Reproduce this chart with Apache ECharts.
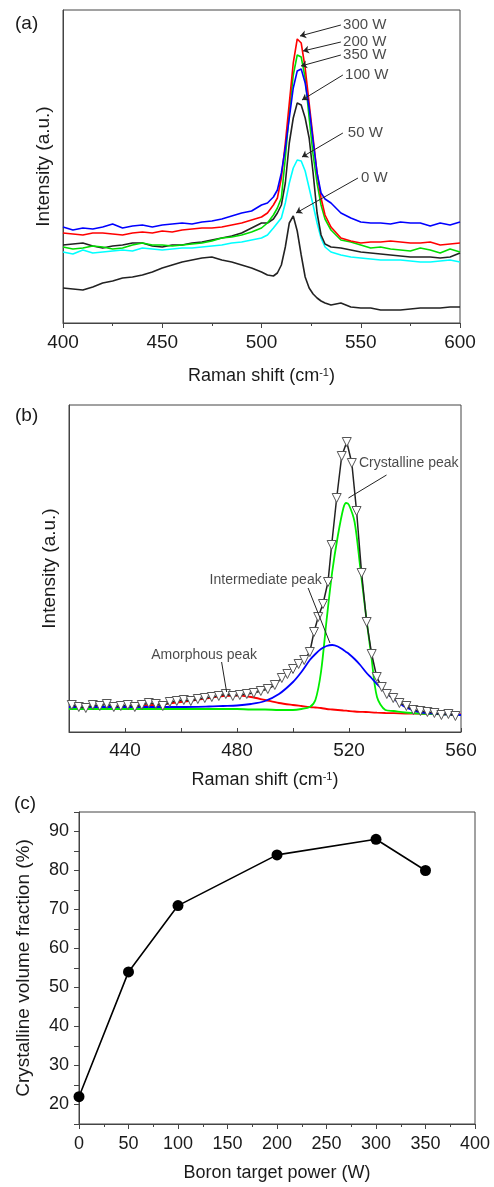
<!DOCTYPE html>
<html>
<head>
<meta charset="utf-8">
<script src="https://cdn.jsdelivr.net/npm/echarts@6/dist/echarts.min.js"></script>
<style>
html,body{margin:0;padding:0;background:#fff;}
#main{width:494px;height:1187px;}
</style>
</head>
<body>
<div id="main"></div>
<script>
// (a) Raman spectra for each boron target power
var aShift = [400,405,410,415,420,425,430,435,440,445,450,455,460,465,470,475,480,485,490,495,500,
  503,506,508,510,512,514,516,518,520,522,524,526,528,530,532,535,
  540,545,550,555,560,565,570,575,580,585,590,595,600];
var a350 = [96,93,95,94,96,99,95,97,98,96,98,99,100,99,101,102,104,107,110,112,118,
  120,126,133,150,175,205,235,252,254,240,215,182,150,130,124,120,
  110,105,101,100,100,99,101,100,100,97,100,98,101];
var a300 = [90,89,88,90,90,89,88,90,91,90,92,91,93,94,95,95,96,98,100,103,106,
  110,118,125,145,180,220,260,284,280,255,220,185,150,125,108,96,
  85,82,80,81,81,82,81,80,80,81,78,79,80];
var a200 = [76,74,75,77,76,74,75,78,80,78,78,77,78,79,80,82,85,86,88,91,95,
  100,108,115,125,165,210,248,268,266,245,205,168,140,118,104,93,
  83,81,78,75,76,74,73,72,75,73,70,74,71];
var a100 = [78,79,80,77,75,77,78,80,80,77,76,78,78,80,81,83,85,87,90,95,100,
  100,104,110,118,140,180,205,220,218,205,185,150,110,88,79,76,
  75,73,71,70,69,68,67,66,66,66,65,66,70];
var a50 = [71,69,73,70,71,72,73,72,75,74,73,74,75,75,76,77,78,80,81,83,85,
  88,95,100,105,120,140,155,163,162,152,135,118,100,85,76,71,
  68,66,65,64,63,63,63,62,61,61,62,63,61];
var a0 = [35,34,33,36,40,42,45,46,48,51,55,58,61,63,65,66,63,61,58,55,51,
  48,47,50,58,76,100,107,92,68,46,35,29,25,22,20,18,
  20,16,15,15,13,13,13,14,15,15,15,16,16];

// (b) measured spectrum and fitted peaks
var bShift = [421,423.5,426,428.5,431,433.5,436,438.5,441,443.5,446,448.5,451,453.5,456,458.5,
  461,463.5,466,468.5,471,473.5,476,478.5,481,483.5,486,488.5,491,493.5,496,498,500,502,504,506,
  507.5,509,510.7,512.5,513.8,515.6,517.4,519.2,521,522.7,524.5,526.3,528.1,529.9,531.7,533.5,
  535.8,538,540.5,543,545.5,548,550.5,553,555.5,558];
var bMeasured = [27,25,24,27,26,28,25,26,27,25,27,29,28,26,30,31,
  32,31,33,34,35,36,38,36,37,38,39,41,43,47,54,58,63,68,72,80,
  100,115,128,150,187,234,276,290,269,221,159,110,78,55,45,38,
  34,29,26,22,21,20,19,17,18,16];
var bFitShift = [420,430,440,450,460,470,475,480,485,490,495,500,503,506,508,510,512,514,516,518,
  519,520,522,524,526,528,530,533,536,540,545,550,560];
var bAmorphous = [25,25,26,27,30,34,36,36.5,35,32,29,27,26,25,24.5,24,23,22.5,22,21.5,
  21.3,21,20.5,20.2,20,19.6,19.3,19,18.8,18.5,18.3,18,17.5];
var bIntermediate = [25,25,25,25,25,25.5,26,26.5,28,31,38,50,60,72,78,83,86,87,85.5,82,
  80,78,73,67,60,54,48,40,33,25,20,18.5,17];
var bCrystalline = [23,23,23,23,23,23,23,23,22.5,22.5,22,22,23,25,32,60,112,160,196,224,
  229,227,210,165,118,75,35,22,21,19.5,18.5,18,17];

// (c) crystalline fraction vs power
var cPower = [0, 50, 100, 200, 300, 350];
var cFraction = [22, 54, 71, 84, 88, 80];

function pairs(xs, ys) {
  return xs.map(function (x, i) { return [x, ys[i]]; });
}

var font = 'Liberation Sans, Arial, sans-serif';
var ink = '#1a1a1a';

function arrows(list) {
  return list.map(function (a) {
    return [{ coord: a[0] }, { coord: a[1] }];
  });
}

var myChart = echarts.init(document.getElementById('main'));

var option = {
  animation: false,
  textStyle: { fontFamily: font, color: ink },
  title: [
    { text: '(a)', left: 10, top: 9, textStyle: { fontSize: 19, fontWeight: 'normal', fontFamily: font, color: ink } },
    { text: '(b)', left: 10, top: 401, textStyle: { fontSize: 19, fontWeight: 'normal', fontFamily: font, color: ink } },
    { text: '(c)', left: 9, top: 789, textStyle: { fontSize: 19, fontWeight: 'normal', fontFamily: font, color: ink } }
  ],
  grid: [
    { left: 63, top: 10, width: 397, height: 313, show: true, borderColor: '#444', borderWidth: 1 },
    { left: 69, top: 405, width: 392, height: 327, show: true, borderColor: '#444', borderWidth: 1 },
    { left: 79, top: 812, width: 396, height: 312, show: true, borderColor: '#444', borderWidth: 1 }
  ],
  xAxis: [
    {
      gridIndex: 0, type: 'value', min: 400, max: 600, interval: 50,
      name: 'Raman shift (cm{sup|-1})', nameLocation: 'middle', nameGap: 44,
      nameTextStyle: { fontSize: 18, color: ink, rich: { sup: { fontSize: 11, verticalAlign: 'top', lineHeight: 12, padding: [0, 0, 8, 0] } } },
      axisLine: { lineStyle: { color: '#444' } },
      axisTick: { length: 5, lineStyle: { color: '#444' } },
      minorTick: { show: true, splitNumber: 2, length: 3, lineStyle: { color: '#444' } },
      axisLabel: { fontSize: 19, color: ink, margin: 10 },
      splitLine: { show: false }
    },
    {
      gridIndex: 1, type: 'value', min: 420, max: 560, interval: 20,
      name: 'Raman shift (cm{sup|-1})', nameLocation: 'middle', nameGap: 39,
      nameTextStyle: { fontSize: 18, color: ink, rich: { sup: { fontSize: 11, verticalAlign: 'top', lineHeight: 12, padding: [0, 0, 8, 0] } } },
      axisLine: { lineStyle: { color: '#444' } },
      axisTick: { inside: true, length: 4, lineStyle: { color: '#444' } },
      axisLabel: {
        fontSize: 19, color: ink, margin: 9,
        formatter: function (v) { return (v - 440) % 40 === 0 ? String(v) : ''; }
      },
      splitLine: { show: false }
    },
    {
      gridIndex: 2, type: 'value', min: 0, max: 400, interval: 50,
      name: 'Boron target power (W)', nameLocation: 'middle', nameGap: 40,
      nameTextStyle: { fontSize: 18, color: ink },
      axisLine: { lineStyle: { color: '#444' } },
      axisTick: { length: 5, lineStyle: { color: '#444' } },
      minorTick: { show: true, splitNumber: 2, length: 3, lineStyle: { color: '#444' } },
      axisLabel: { fontSize: 18, color: ink, margin: 11 },
      splitLine: { show: false }
    }
  ],
  yAxis: [
    {
      gridIndex: 0, type: 'value', min: 0, max: 313,
      name: 'Intensity (a.u.)', nameLocation: 'middle', nameGap: 10,
      nameTextStyle: { fontSize: 19, color: ink },
      axisLine: { show: true, lineStyle: { color: '#444' } },
      axisTick: { show: false }, axisLabel: { show: false }, splitLine: { show: false }
    },
    {
      gridIndex: 1, type: 'value', min: 0, max: 327,
      name: 'Intensity (a.u.)', nameLocation: 'middle', nameGap: 10,
      nameTextStyle: { fontSize: 19, color: ink },
      axisLine: { show: true, lineStyle: { color: '#444' } },
      axisTick: { show: false }, axisLabel: { show: false }, splitLine: { show: false }
    },
    {
      gridIndex: 2, type: 'value', min: 15, max: 95, interval: 5,
      name: 'Crystalline volume fraction (%)', nameLocation: 'middle', nameGap: 46,
      nameTextStyle: { fontSize: 19, color: ink },
      axisLine: { show: true, lineStyle: { color: '#444' } },
      axisTick: { length: 5, lineStyle: { color: '#444' } },
      axisLabel: {
        fontSize: 18, color: ink, margin: 10,
        formatter: function (v) { return v % 10 === 0 ? String(v) : ''; }
      },
      splitLine: { show: false }
    }
  ],
  series: [
    // panel (a)
    { name: '0 W', type: 'line', xAxisIndex: 0, yAxisIndex: 0, showSymbol: false, data: pairs(aShift, a0), lineStyle: { color: '#222', width: 1.6 } },
    { name: '50 W', type: 'line', xAxisIndex: 0, yAxisIndex: 0, showSymbol: false, data: pairs(aShift, a50), lineStyle: { color: '#00ffff', width: 1.6 } },
    { name: '100 W', type: 'line', xAxisIndex: 0, yAxisIndex: 0, showSymbol: false, data: pairs(aShift, a100), lineStyle: { color: '#222', width: 1.6 } },
    { name: '200 W', type: 'line', xAxisIndex: 0, yAxisIndex: 0, showSymbol: false, data: pairs(aShift, a200), lineStyle: { color: '#00dd00', width: 1.6 } },
    { name: '300 W', type: 'line', xAxisIndex: 0, yAxisIndex: 0, showSymbol: false, data: pairs(aShift, a300), lineStyle: { color: '#ff0000', width: 1.6 } },
    { name: '350 W', type: 'line', xAxisIndex: 0, yAxisIndex: 0, showSymbol: false, data: pairs(aShift, a350), lineStyle: { color: '#0000ff', width: 1.6 } },
    {
      name: 'aNotes', type: 'scatter', xAxisIndex: 0, yAxisIndex: 0, symbolSize: 0, silent: true,
      label: { show: true, position: 'right', distance: 1, fontSize: 15, color: ink, fontFamily: font, formatter: function (p) { return p.value[2]; } },
      data: [[540.6, 298, '300 W'], [540.6, 281, '200 W'], [540.6, 268, '350 W'], [541.6, 248, '100 W'], [543, 190, '50 W'], [549.6, 145, '0 W']],
      markLine: {
        silent: true, symbol: ['none', 'arrow'], symbolSize: 6, label: { show: false },
        lineStyle: { color: '#222', width: 1, type: 'solid' },
        data: arrows([
          [[540, 298], [519.4, 287]],
          [[540, 281], [520.9, 272]],
          [[540, 268], [519.9, 257]],
          [[541, 248], [520.4, 223]],
          [[541, 190], [520.4, 166]],
          [[548.6, 145], [517.4, 110]]
        ])
      }
    },
    // panel (b)
    { name: 'Amorphous', type: 'line', xAxisIndex: 1, yAxisIndex: 1, smooth: 0.3, showSymbol: false, data: pairs(bFitShift, bAmorphous), lineStyle: { color: '#ff0000', width: 1.8 } },
    { name: 'Crystalline', type: 'line', xAxisIndex: 1, yAxisIndex: 1, smooth: 0.3, showSymbol: false, data: pairs(bFitShift, bCrystalline), lineStyle: { color: '#00ee00', width: 1.8 } },
    { name: 'Intermediate', type: 'line', xAxisIndex: 1, yAxisIndex: 1, smooth: 0.3, showSymbol: false, data: pairs(bFitShift, bIntermediate), lineStyle: { color: '#0000ff', width: 1.8 } },
    {
      name: 'Measured', type: 'line', xAxisIndex: 1, yAxisIndex: 1, data: pairs(bShift, bMeasured),
      lineStyle: { color: '#222', width: 1.5 },
      symbol: 'triangle', symbolRotate: 180, symbolSize: 9,
      itemStyle: { color: '#fff', borderColor: '#555', borderWidth: 1 }
    },
    {
      name: 'bNotes', type: 'scatter', xAxisIndex: 1, yAxisIndex: 1, symbolSize: 0, silent: true,
      label: { show: true, distance: 1, fontSize: 14, color: ink, fontFamily: font, formatter: function (p) { return p.value[2]; } },
      data: [
        { value: [523.2, 269, 'Crystalline peak'], label: { position: 'right' } },
        { value: [510.6, 152, 'Intermediate peak'], label: { position: 'left' } },
        { value: [449, 77, 'Amorphous peak'], label: { position: 'right' } }
      ],
      markLine: {
        silent: true, symbol: ['none', 'none'], label: { show: false },
        lineStyle: { color: '#222', width: 1, type: 'solid' },
        data: arrows([
          [[533.4, 257], [519.8, 234]],
          [[505.4, 144], [513.2, 89]],
          [[474.5, 70], [476.3, 40]]
        ])
      }
    },
    // panel (c)
    {
      name: 'Fraction', type: 'line', xAxisIndex: 2, yAxisIndex: 2, data: pairs(cPower, cFraction),
      symbol: 'circle', symbolSize: 11,
      lineStyle: { color: '#000', width: 1.6 },
      itemStyle: { color: '#000' }
    }
  ]
};

myChart.setOption(option);
</script>
</body>
</html>
